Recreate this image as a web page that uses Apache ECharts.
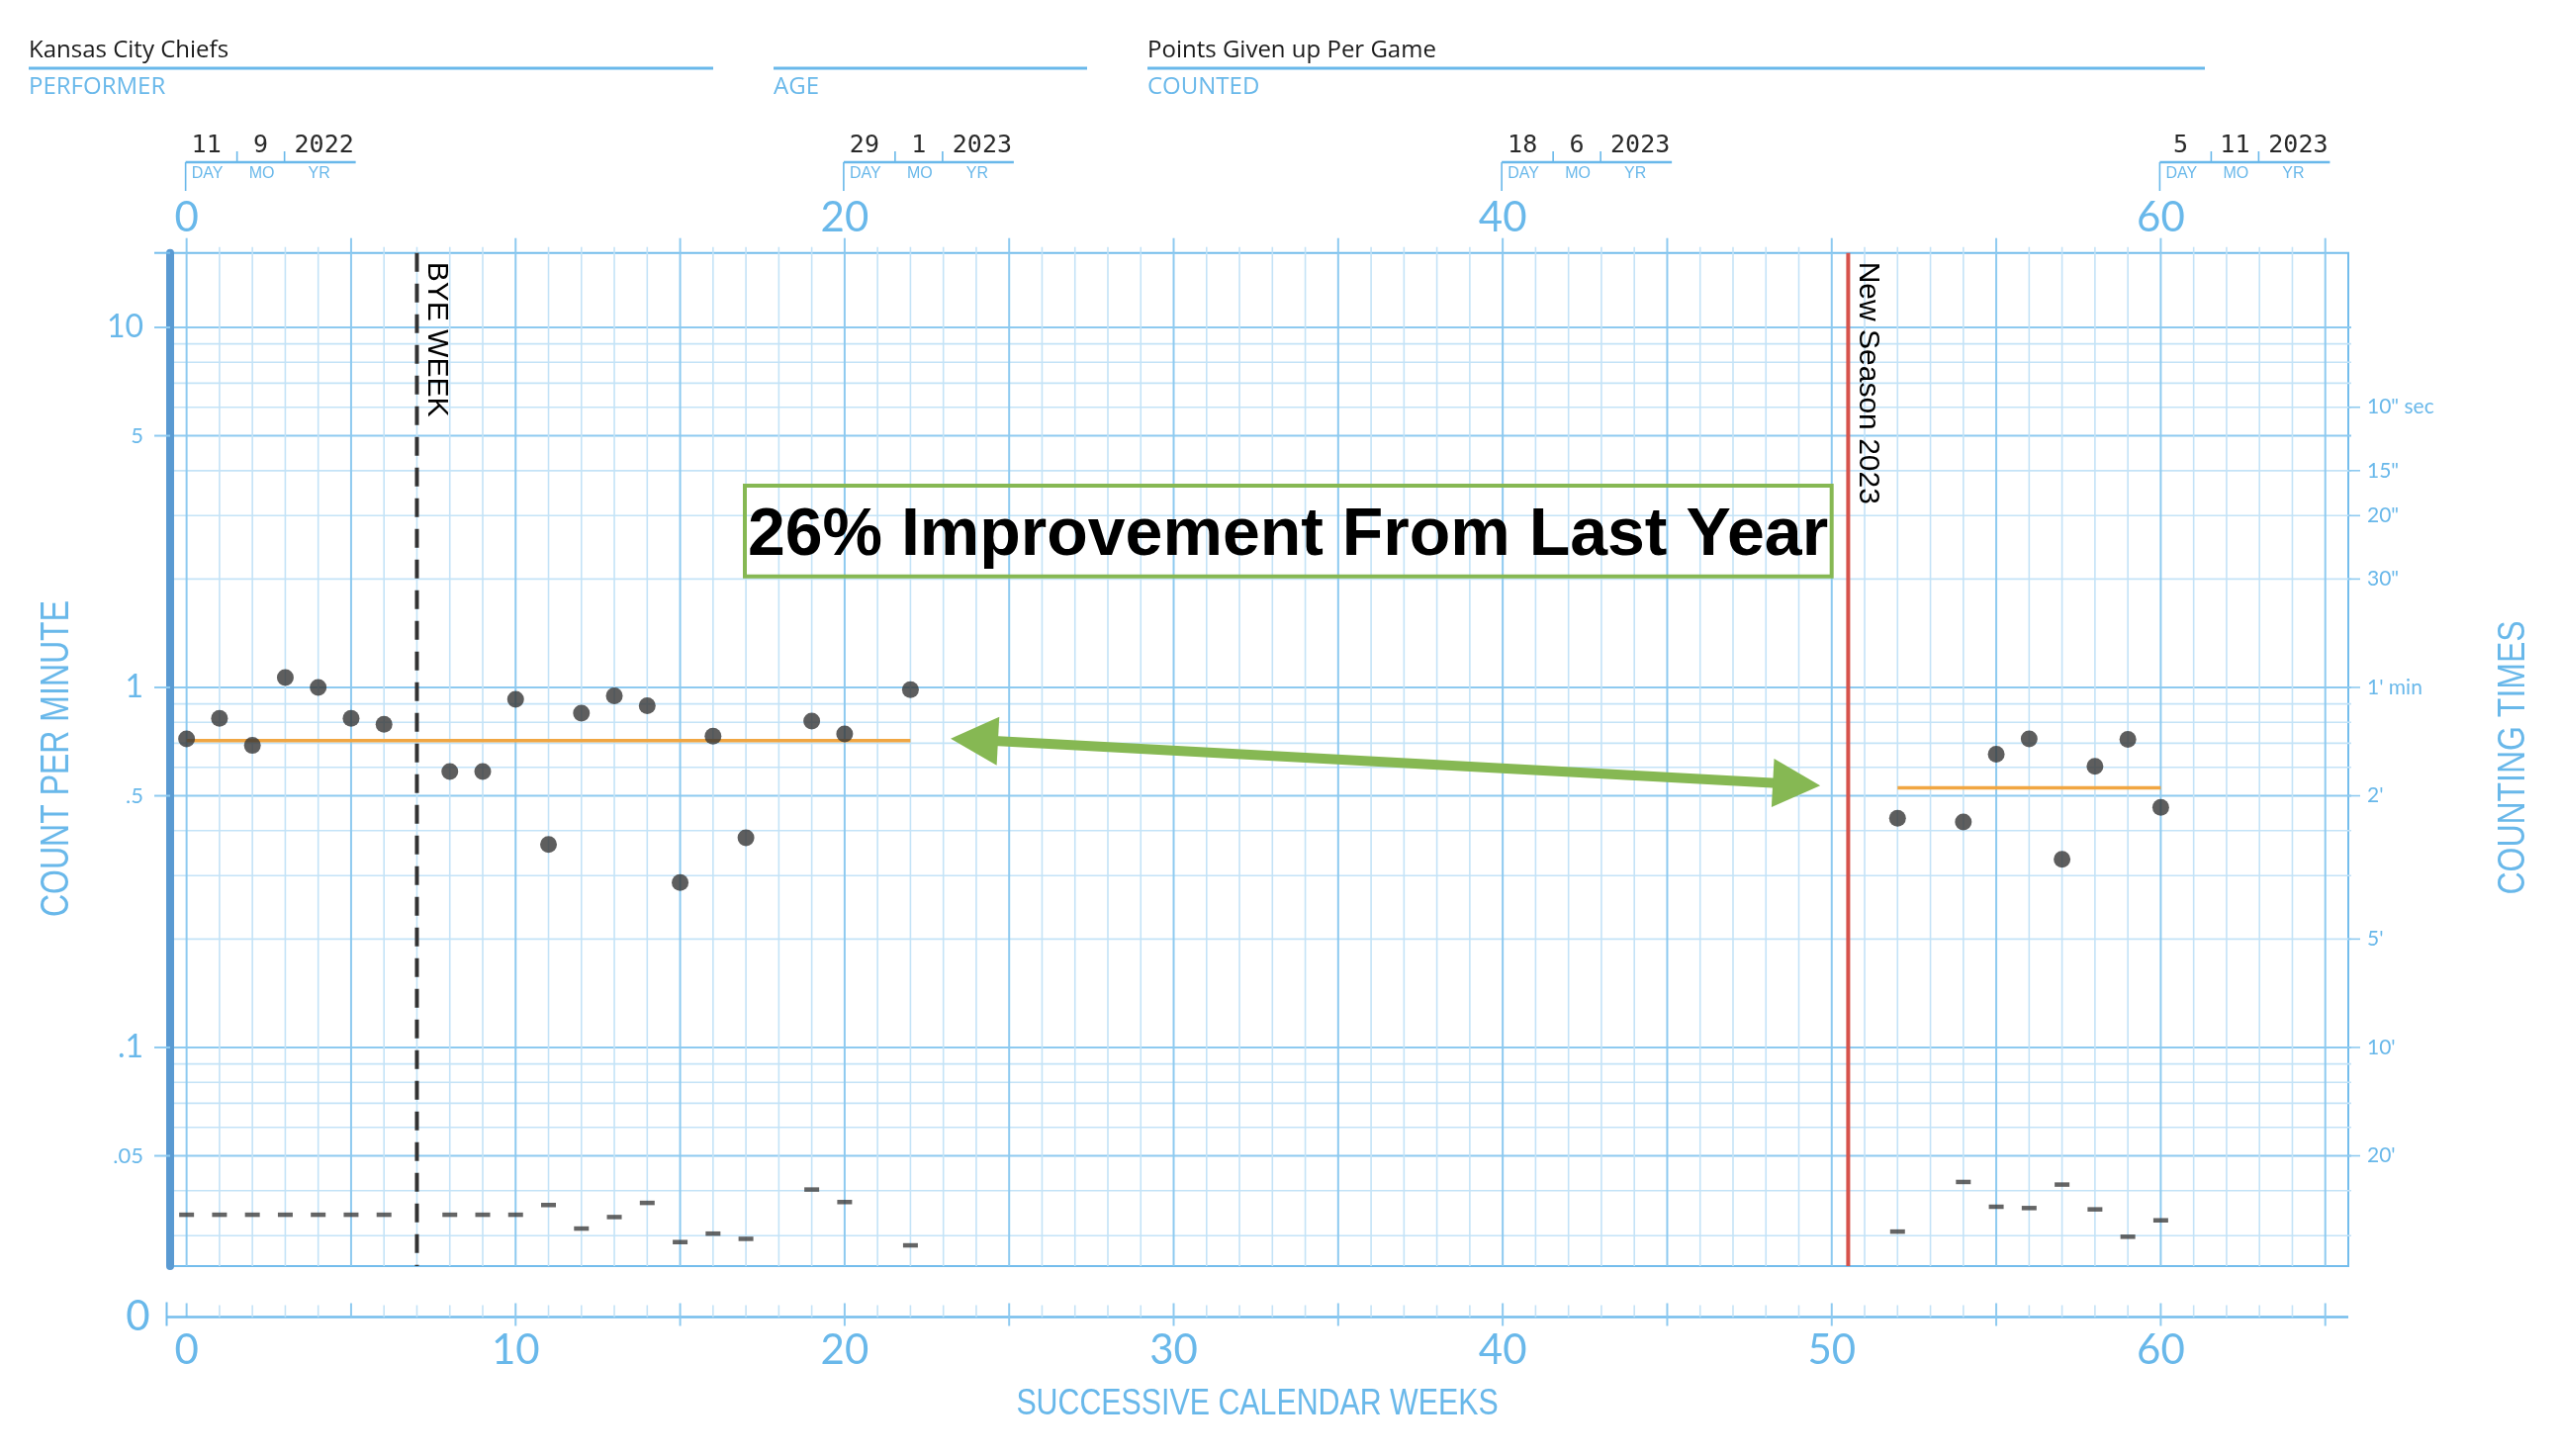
<!DOCTYPE html>
<html>
<head>
<meta charset="utf-8">
<script src="https://cdn.jsdelivr.net/npm/echarts@6/dist/echarts.min.js"></script>
<style>
html,body{margin:0;padding:0;background:#fff;}
#c{width:2587px;height:1472px;}
</style>
</head>
<body>
<div id="c"></div>
<script>
// ---------------- DATA ----------------
const performer = 'Kansas City Chiefs';
const counted = 'Points Given up Per Game';

const season1Weeks = [0,1,2,3,4,5,6,8,9,10,11,12,13,14,15,16,17,19,20,22];
const season1Rates = [0.72,0.82,0.69,1.065,1.0,0.82,0.79,0.584,0.584,0.927,0.366,0.848,0.947,0.89,0.287,0.732,0.382,0.806,0.743,0.985];
const season1Floors = [0.0343,0.0343,0.0343,0.0343,0.0343,0.0343,0.0343,0.0343,0.0343,0.0343,0.0365,0.0314,0.0338,0.037,0.0288,0.0304,0.0294,0.0403,0.0372,0.0282];

const season2Weeks = [52,54,55,56,57,58,59,60];
const season2Rates = [0.433,0.423,0.652,0.72,0.333,0.604,0.717,0.464];
const season2Floors = [0.0308,0.0423,0.0361,0.0358,0.0416,0.0355,0.0298,0.0331];

const mean1 = {from:0, to:22, value:0.712};
const mean2 = {from:52, to:60, value:0.526};

const arrowFrom = [23.22, 0.721];
const arrowTo = [49.65, 0.534];

const eventWeeks = [7, 50.5];
const eventLabels = ['BYE WEEK', 'New Season 2023'];

const topWeekLabels = [0,20,40,60];
const dateDays = ['11','29','18','5'];
const dateMonths = ['9','1','6','11'];
const dateYears = ['2022','2023','2023','2023'];

const bottomWeekLabels = [0,10,20,30,40,50,60];

const leftTickValues = [10,5,1,0.5,0.1,0.05];
const leftTickLabels = ['10','5','1','.5','.1','.05'];

const rightTickValues = [6,4,3,2,1,0.5,0.2,0.1,0.05];
const rightTickLabels = ['10" sec','15"','20"','30"',"1' min","2'","5'","10'","20'"];

const annotationText = '26% Improvement From Last Year';

// ---------------- STYLE ----------------
const BLUE = '#69b8ea';
const GRID_MAJ = '#8ecaf0';
const GRID_MIN = '#c4e3f7';
const BORDER = '#74bdec';
const BAR = '#5a9ad2';
const DOT = '#363636';
const NUMFONT = 'Lato, "Noto Sans", sans-serif';
const ARIAL = '"Liberation Sans", Arial, sans-serif';
const SANS = '"Open Sans", "Noto Sans", sans-serif';
const ZERO_GAP = 51.5;

// grid furniture positions (chart scaffolding, not data)
const gridWeeks = [];
for (let w = 0; w <= 65; w++) gridWeeks.push(w);
const hGridValues = [];
[0.01, 0.1, 1, 10].forEach(d => { for (let k = 1; k <= 9; k++) { const v = +(k * d).toPrecision(3); if (v >= 0.025 && v <= 16) hGridValues.push(v); } });
const hMajor = v => [0.05,0.1,0.5,1,5,10].some(m => Math.abs(m - v) < 1e-9);

function L(x1,y1,x2,y2,stroke,lw,extra){
  return Object.assign({type:'line', shape:{x1,y1,x2,y2}, style:{stroke, lineWidth:lw}}, extra||{});
}
function T(x,y,text,font,fill,align,valign,extra){
  return Object.assign({type:'text', x, y, style:{text, font, fill, align:align||'center', verticalAlign:valign||'middle'}}, extra||{});
}

const chart = echarts.init(document.getElementById('c'), null, {renderer:'canvas'});

const option = {
  animation:false,
  backgroundColor:'#ffffff',
  grid:{left:172, top:255.7, width:2202, height:1024.3, show:true, borderColor:BORDER, borderWidth:2, backgroundColor:'transparent'},
  xAxis:{type:'value', min:-0.5, max:65.7, show:false},
  yAxis:{type:'log', logBase:10, min:0.0247, max:16.1,
    axisLine:{show:true, onZero:false, lineStyle:{color:BAR, width:8}},
    axisTick:{show:false}, axisLabel:{show:false}, splitLine:{show:false}},
  graphic:[
    T(29,50.7,performer,'24px '+SANS,'#1a1a1a','left'),
    L(29,69,721,69,BLUE,3),
    T(29,88.3,'PERFORMER','24px '+SANS,BLUE,'left'),
    L(782,69,1099,69,BLUE,3),
    T(782,88.3,'AGE','24px '+SANS,BLUE,'left'),
    T(1160,50.7,counted,'24px '+SANS,'#1a1a1a','left'),
    L(1160,69,2229,69,BLUE,3),
    T(1160,88.3,'COUNTED','24px '+SANS,BLUE,'left'),
    T(57.7,767,'COUNT PER MINUTE','40px '+ARIAL,BLUE,'center','middle',{rotation:Math.PI/2, scaleX:0.8}),
    T(2541.7,766,'COUNTING TIMES','39px '+ARIAL,BLUE,'center','middle',{rotation:Math.PI/2, scaleX:0.82}),
    T(1271,1419.3,'SUCCESSIVE CALENDAR WEEKS','37px '+ARIAL,BLUE,'center','middle',{scaleX:0.82}),
    T(139.5,1331.5,'0','42px '+NUMFONT,BLUE),
    {type:'rect', z:100, shape:{x:753,y:491,width:1098.7,height:91.7}, style:{fill:'rgba(0,0,0,0)', stroke:'#86b853', lineWidth:4}},
    {type:'text', z:101, x:1302, y:542, style:{text:annotationText, font:'bold 68px '+ARIAL, fill:'#000', align:'center', verticalAlign:'middle'}}
  ],
  series:[
    // horizontal grid lines
    {type:'custom', coordinateSystem:'cartesian2d', clip:false, silent:true, z:1,
     data:hGridValues.map(v=>[0,v]), encode:{x:0,y:1},
     renderItem(params, api){
       const cs = params.coordSys;
       const y = api.coord([0, api.value(1)])[1];
       const maj = hMajor(api.value(1));
       return L(cs.x+4, y, cs.x+cs.width+3, y, maj?GRID_MAJ:GRID_MIN, maj?2:1.6);
     }},
    // vertical grid lines + top & bottom ticks
    {type:'custom', coordinateSystem:'cartesian2d', clip:false, silent:true, z:1,
     data:gridWeeks.map(w=>[w,1]), encode:{x:0,y:1},
     renderItem(params, api){
       const cs = params.coordSys;
       const w = api.value(0);
       const x = api.coord([w,1])[0];
       const maj = w % 5 === 0;
       const top = cs.y, bot = cs.y + cs.height, zy = bot + ZERO_GAP;
       const ch = [
         L(x, top, x, bot, maj?GRID_MAJ:GRID_MIN, maj?2:1.6),
         L(x, top-(maj?15:6), x, top, maj?GRID_MAJ:GRID_MIN, maj?2:1.6),
         L(x, zy-(maj?14:12), x, zy+(maj && w>=10?9:0), maj?GRID_MAJ:GRID_MIN, maj?2:1.6)
       ];
       if (w === 0) {
         ch.push(L(cs.x-3.5, zy, cs.x+cs.width, zy, BORDER, 2.5));
         ch.push(L(cs.x-3.5, zy-15, cs.x-3.5, zy+9, BORDER, 2));
         ch.push(L(cs.x-16, top, cs.x, top, BORDER, 2));
       }
       return {type:'group', children:ch};
     }},
    // left labels
    {type:'custom', coordinateSystem:'cartesian2d', clip:false, silent:true, z:2,
     data:leftTickValues.map(v=>[0,v]), encode:{x:0,y:1},
     renderItem(params, api){
       const cs = params.coordSys;
       const i = params.dataIndex;
       const y = api.coord([0, api.value(1)])[1];
       const big = i % 2 === 0;
       return {type:'group', children:[
         L(cs.x-16, y, cs.x, y, GRID_MAJ, 2),
         T(cs.x-27, y, leftTickLabels[i], (big?'32px ':'22px ')+NUMFONT, BLUE, 'right', 'middle')
       ]};
     }},
    // right counting-time labels
    {type:'custom', coordinateSystem:'cartesian2d', clip:false, silent:true, z:2,
     data:rightTickValues.map(v=>[0,v]), encode:{x:0,y:1},
     renderItem(params, api){
       const cs = params.coordSys;
       const i = params.dataIndex;
       const y = api.coord([0, api.value(1)])[1];
       const xr = cs.x + cs.width;
       return {type:'group', children:[
         L(xr, y, xr+12, y, GRID_MAJ, 1.6),
         T(xr+19, y, rightTickLabels[i], '21px '+NUMFONT, BLUE, 'left', 'middle')
       ]};
     }},
    // top week labels with date boxes
    {type:'custom', coordinateSystem:'cartesian2d', clip:false, silent:true, z:2,
     data:topWeekLabels.map(w=>[w,1]), encode:{x:0,y:1},
     renderItem(params, api){
       const cs = params.coordSys;
       const i = params.dataIndex;
       const wx = api.coord([api.value(0),1])[0];
       const top = cs.y;
       const ly = top - 91.7;
       const mono = '25px "DejaVu Sans Mono", "Liberation Mono", monospace';
       const small = '16px '+ARIAL;
       return {type:'group', children:[
         T(wx, top-35.7, String(topWeekLabels[i]), '42px '+NUMFONT, BLUE),
         L(wx-1, ly, wx+171, ly, BLUE, 2.5),
         L(wx-1, ly, wx-1, top-62.7, BLUE, 1.6),
         L(wx+51, ly-11, wx+51, ly, BLUE, 1.6),
         L(wx+99, ly-11, wx+99, ly, BLUE, 1.6),
         T(wx+20, top-108, dateDays[i], mono, '#2a2a2a'),
         T(wx+75, top-108, dateMonths[i], mono, '#2a2a2a'),
         T(wx+139, top-108, dateYears[i], mono, '#2a2a2a'),
         T(wx+5, top-79.7, 'DAY', small, BLUE, 'left'),
         T(wx+76, top-79.7, 'MO', small, BLUE),
         T(wx+134, top-79.7, 'YR', small, BLUE)
       ]};
     }},
    // bottom week labels
    {type:'custom', coordinateSystem:'cartesian2d', clip:false, silent:true, z:2,
     data:bottomWeekLabels.map(w=>[w,1]), encode:{x:0,y:1},
     renderItem(params, api){
       const cs = params.coordSys;
       const i = params.dataIndex;
       const x = api.coord([api.value(0),1])[0];
       return T(x, cs.y+cs.height+ZERO_GAP+34.2, String(bottomWeekLabels[i]), '42px '+NUMFONT, BLUE);
     }},
    // phase-change lines
    {type:'custom', coordinateSystem:'cartesian2d', clip:false, silent:true, z:3,
     data:eventWeeks.map(w=>[w,1]), encode:{x:0,y:1},
     renderItem(params, api){
       const cs = params.coordSys;
       const i = params.dataIndex;
       const x = api.coord([api.value(0),1])[0];
       const top = cs.y, bot = cs.y + cs.height;
       const ln = i === 0
         ? L(x, top, x, bot, '#333333', 4, {style:{stroke:'#333333', lineWidth:4, lineDash:[19,12]}})
         : L(x, top, x, bot, '#d6534c', 4);
       return {type:'group', children:[
         ln,
         T(x+5, top+9, eventLabels[i], '30px '+ARIAL, '#000', 'left', 'bottom', {rotation:-Math.PI/2})
       ]};
     }},
    // mean lines
    {type:'line', z:4, silent:true, symbol:'none', lineStyle:{color:'#f1a642', width:3.5},
     data:[[mean1.from, mean1.value],[mean1.to, mean1.value]]},
    {type:'line', z:4, silent:true, symbol:'none', lineStyle:{color:'#f1a642', width:3.5},
     data:[[mean2.from, mean2.value],[mean2.to, mean2.value]]},
    // arrow
    {type:'custom', coordinateSystem:'cartesian2d', clip:false, silent:true, z:6,
     data:[[arrowFrom[0], arrowFrom[1], arrowTo[0], arrowTo[1]]], encode:{x:[0,2], y:[1,3]},
     renderItem(params, api){
       const p1 = api.coord([api.value(0), api.value(1)]);
       const p2 = api.coord([api.value(2), api.value(3)]);
       const dx = p2[0]-p1[0], dy = p2[1]-p1[1];
       const len = Math.sqrt(dx*dx+dy*dy);
       const ux = dx/len, uy = dy/len, nx = -uy, ny = ux;
       const HL = 48, HW = 24.5;
       const col = '#86b853';
       const b1 = [p1[0]+ux*HL, p1[1]+uy*HL];
       const b2 = [p2[0]-ux*HL, p2[1]-uy*HL];
       return {type:'group', children:[
         {type:'line', shape:{x1:b1[0]-ux*4, y1:b1[1]-uy*4, x2:b2[0]+ux*4, y2:b2[1]+uy*4}, style:{stroke:col, lineWidth:10}},
         {type:'polygon', shape:{points:[p1,[b1[0]+nx*HW,b1[1]+ny*HW],[b1[0]-nx*HW,b1[1]-ny*HW]]}, style:{fill:col}},
         {type:'polygon', shape:{points:[p2,[b2[0]+nx*HW,b2[1]+ny*HW],[b2[0]-nx*HW,b2[1]-ny*HW]]}, style:{fill:col}}
       ]};
     }},
    // rates
    {type:'scatter', z:5, silent:true, symbol:'circle', symbolSize:17, itemStyle:{color:DOT},
     data:season1Weeks.map((w,i)=>[w, season1Rates[i]]).concat(season2Weeks.map((w,i)=>[w, season2Rates[i]]))},
    // record floors
    {type:'scatter', z:5, silent:true, symbol:'rect', symbolSize:[15,4.5], itemStyle:{color:'#3f3f3f'},
     data:season1Weeks.map((w,i)=>[w, season1Floors[i]]).concat(season2Weeks.map((w,i)=>[w, season2Floors[i]]))}
  ]
};
chart.setOption(option);
</script>
</body>
</html>
